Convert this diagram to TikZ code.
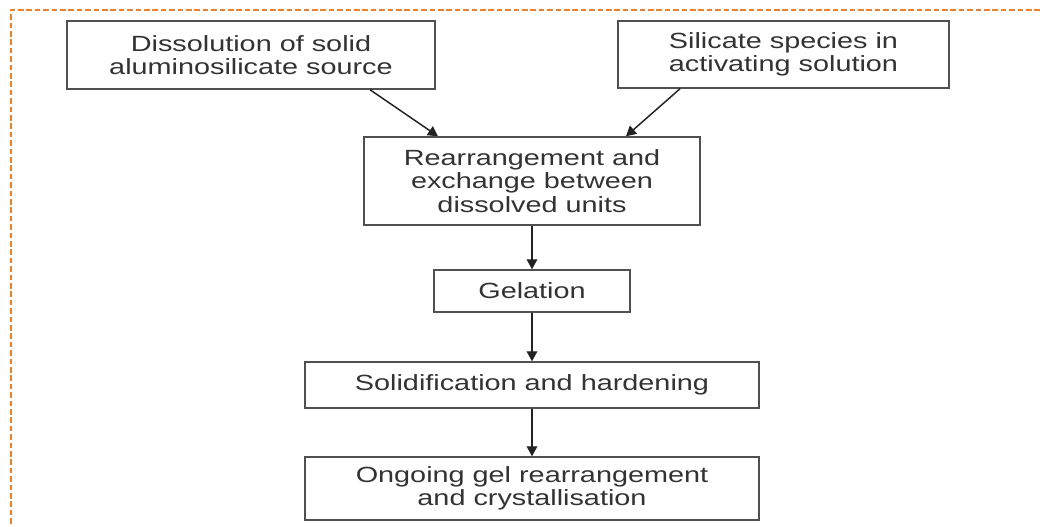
\documentclass[tikz,border=0pt]{standalone}
\usepackage{fontspec}
\setmainfont{Liberation Sans}[FakeStretch=1.31]
\usetikzlibrary{arrows.meta}
\definecolor{bordercol}{HTML}{E8822A}
\definecolor{txtcol}{HTML}{333333}
\definecolor{boxcol}{HTML}{505050}
\definecolor{arrcol}{HTML}{222222}
\begin{document}
\begin{tikzpicture}[x=0.75pt,y=-0.75pt,
  procbox/.style={draw=boxcol, line width=1.1pt, fill=white, text=txtcol, align=center,
    inner sep=0pt, font=\fontsize{16.5}{17.5}\selectfont},
  flowarrow/.style={draw=arrcol, line width=1.1pt, -{Triangle[length=7.5pt,width=8pt]}},
  frameline/.style={draw=bordercol, line width=1.7pt, dash pattern=on 4.2pt off 2.1pt}
]
\useasboundingbox (0,0) rectangle (1040,527);
\fill[white] (0,0) rectangle (1040,527);
% dashed frame (top and left edges)
\coordinate (ftop) at (1040,10);
\coordinate (fcorner) at (11,10);
\coordinate (fbottom) at (11,527);
\draw[frameline] (ftop) -- (fcorner) -- (fbottom);

\node[procbox, minimum width=276pt, minimum height=51pt] (b1) at (251,55)
  {Dissolution of solid\\aluminosilicate source};
\node[procbox, minimum width=248.25pt, minimum height=50.25pt] (b2) at (783.5,54.5)
  {Silicate species in\\activating solution};
\node[procbox, minimum width=252pt, minimum height=66pt] (b3) at (532,181)
  {Rearrangement and\\exchange between\\dissolved units};
\node[procbox, minimum width=147pt, minimum height=31.5pt] (b4) at (532,291)
  {Gelation};
\node[procbox, minimum width=340.5pt, minimum height=34.5pt] (b5) at (532,385)
  {Solidification and hardening};
\node[procbox, minimum width=340.5pt, minimum height=47.25pt] (b6) at (532,488.5)
  {Ongoing gel rearrangement\\and crystallisation};

\draw[flowarrow] ([xshift=89.25pt]b1.south) -- ([xshift=-70.5pt]b3.north);
\draw[flowarrow] ([xshift=-77.6pt]b2.south) -- ([xshift=70.5pt]b3.north);
\draw[flowarrow] (b3.south) -- (b4.north);
\draw[flowarrow] (b4.south) -- (b5.north);
\draw[flowarrow] (b5.south) -- (b6.north);
\end{tikzpicture}
\end{document}
